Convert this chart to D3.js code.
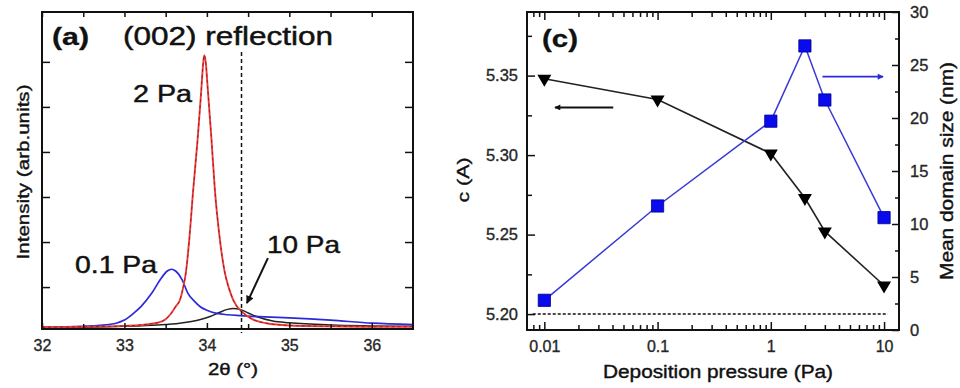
<!DOCTYPE html>
<html><head><meta charset="utf-8">
<script src="https://cdn.jsdelivr.net/npm/d3@7"></script>
<style>
body{margin:0;background:#fff}
svg{display:block}
text{font-family:"Liberation Sans",Arial,Helvetica,sans-serif}
</style>
</head><body>
<svg id="chart" width="960" height="388"></svg>
<script>
// ---------- Panel (a): (002) reflection scans ----------
const theta2Pa = [32.0,32.5,33.0,33.2,33.4,33.5,33.57,33.62,33.673,33.72,33.745,33.786,33.834,33.887,33.93,33.95,33.967,33.985,34.01,34.056,34.097,34.158,34.218,34.27,34.32,34.44,34.55,34.72,35.0,35.5,36.0,36.5];
const int2Pa   = [0.04,0.05,0.07,0.09,0.14,0.22,0.36,0.5,0.65,1.0,1.26,2.0,3.12,4.24,5.3,5.85,6.14,6.0,5.4,4.24,3.12,2.0,1.26,0.9,0.65,0.36,0.22,0.13,0.08,0.06,0.05,0.05];
const theta01Pa = [32.0,32.5,32.7,32.9,33.0,33.11,33.2,33.33,33.45,33.52,33.57,33.62,33.7,33.77,33.85,33.92,34.0,34.12,34.25,34.4,34.7,35.0,35.5,36.0,36.5];
const int01Pa   = [0.04,0.06,0.08,0.13,0.2,0.35,0.5,0.8,1.15,1.3,1.34,1.3,1.1,0.8,0.62,0.5,0.42,0.35,0.32,0.3,0.27,0.25,0.2,0.13,0.1];
const theta10Pa = [32.0,32.5,33.0,33.4,33.67,33.9,34.04,34.15,34.25,34.32,34.4,34.5,34.6,34.8,35.0,35.5,36.0,36.5];
const int10Pa   = [0.03,0.04,0.06,0.09,0.13,0.2,0.28,0.37,0.44,0.46,0.44,0.36,0.28,0.18,0.14,0.09,0.07,0.06];
const thetaTicksMajor = [32,33,34,35,36];
const thetaTicksMinor = [32.5,33.5,34.5,35.5];
const intensityTicks = [0.94,1.95,2.96,3.97,4.98,5.99];
const refTheta = 34.42, refTop = 6.21, refBottom = -0.09;
const arrow10Pa = {from:[34.74,1.59], to:[34.485,0.58]};

// ---------- Panel (c): lattice parameter and domain size ----------
const pressures  = [0.01,0.1,1,2,3,10];
const cLattice   = [5.348,5.335,5.301,5.273,5.252,5.218];
const domainSize = [2.8,11.7,19.7,26.8,21.7,10.6];
const pressureTicks = [0.01,0.1,1,10];
const cTicksMajor = [5.20,5.25,5.30,5.35];
const cTicksMinor = [5.225,5.275,5.325,5.375];
const sizeTicksMajor = [0,5,10,15,20,25,30];
const sizeTicksMinor = [2.5,7.5,12.5,17.5,22.5,27.5];
const refC = {c:5.20, from:0.0079, to:10.8};
const arrowLeft  = {from:[0.0406,5.330], to:[0.0124,5.330]};
const arrowRight = {from:[2.86,23.9], to:[9.8,23.9]};

const svg = d3.select("#chart");
const defs = svg.append("defs");
function head(id, color, w, l){
  defs.append("marker").attr("id",id).attr("viewBox","0 -5 10 10")
    .attr("refX",9).attr("refY",0).attr("markerUnits","userSpaceOnUse")
    .attr("markerWidth",l).attr("markerHeight",w).attr("orient","auto")
    .append("path").attr("d","M0,-5L10,0L0,5Z").attr("fill",color);
}
head("hBlack","#111",8,12);
head("hBlue","#2a2ad8",6,10);
head("hSmall","#111",6,9);

function label(g, s, x, y, o){
  const t = g.append("text").attr("x",x).attr("y",y).text(s)
    .attr("font-size",o.size).attr("fill",o.fill||"#111")
    .attr("stroke",o.fill||"#111").attr("stroke-width",o.sw!==undefined?o.sw:0.45)
    .attr("font-weight",o.weight||"normal")
    .attr("text-anchor",o.anchor||"start");
  if(o.len) t.attr("textLength",o.len).attr("lengthAdjust","spacingAndGlyphs");
  if(o.rot) t.attr("transform",`rotate(${o.rot},${x},${y})`);
  return t;
}
function styleAxis(g, fs){
  g.select(".domain").remove();
  g.selectAll(".tick line").attr("stroke","#111").attr("stroke-width",1.5);
  g.selectAll("text").attr("font-family",'"Liberation Sans",Arial,sans-serif')
    .attr("font-size",fs).attr("fill","#222").attr("stroke","#333").attr("stroke-width",0.35);
}

// ===== Panel (a) =====
const xa = d3.scaleLinear().domain([32,36.5]).range([42,413]);
const ya = d3.scaleLinear().domain([0,7.108]).range([329,12]);
const ga = svg.append("g");
defs.append("clipPath").attr("id","clipA").append("rect")
  .attr("x",42).attr("y",12).attr("width",371).attr("height",317);

const lineA = d3.line().x(d=>xa(d[0])).y(d=>ya(d[1])).curve(d3.curveMonotoneX);
const curves = ga.append("g").attr("clip-path","url(#clipA)");
curves.append("path").datum(d3.zip(theta10Pa,int10Pa)).attr("d",lineA)
  .attr("fill","none").attr("stroke","#222").attr("stroke-width",1.5);
curves.append("path").datum(d3.zip(theta01Pa,int01Pa)).attr("d",lineA)
  .attr("fill","none").attr("stroke","#2a2ad8").attr("stroke-width",1.7);
curves.append("path").datum(d3.zip(theta2Pa,int2Pa)).attr("d",lineA)
  .attr("fill","none").attr("stroke","#f03c3c").attr("stroke-width",1.9);
curves.append("path").datum(d3.zip(theta2Pa,int2Pa)).attr("d",lineA)
  .attr("fill","none").attr("stroke","#5a1010").attr("stroke-width",0.9)
  .attr("stroke-dasharray","3,3").attr("opacity",0.7);

// reference dashed line
ga.append("line").attr("x1",xa(refTheta)).attr("x2",xa(refTheta))
  .attr("y1",ya(refTop)).attr("y2",ya(refBottom))
  .attr("stroke","#111").attr("stroke-width",1.5).attr("stroke-dasharray","4,3");

// axes (a)
const aB = ga.append("g").attr("transform","translate(0,329)")
  .call(d3.axisBottom(xa).tickValues(thetaTicksMajor).tickFormat(d3.format("d")).tickSizeInner(-6).tickSizeOuter(0).tickPadding(11));
styleAxis(aB,16);
const aBm = ga.append("g").attr("transform","translate(0,329)")
  .call(d3.axisBottom(xa).tickValues(thetaTicksMinor).tickFormat("").tickSizeInner(-5).tickSizeOuter(0));
styleAxis(aBm,16);
const aT = ga.append("g").attr("transform","translate(0,12)")
  .call(d3.axisTop(xa).tickValues(thetaTicksMajor.concat(thetaTicksMinor)).tickFormat("").tickSizeInner(-5).tickSizeOuter(0));
styleAxis(aT,16);
const aL = ga.append("g").attr("transform","translate(42,0)")
  .call(d3.axisLeft(ya).tickValues(intensityTicks).tickFormat("").tickSizeInner(-8).tickSizeOuter(0));
styleAxis(aL,16);
const aR = ga.append("g").attr("transform","translate(413,0)")
  .call(d3.axisRight(ya).tickValues(intensityTicks).tickFormat("").tickSizeInner(-8).tickSizeOuter(0));
styleAxis(aR,16);
ga.append("rect").attr("x",42).attr("y",12).attr("width",371).attr("height",317)
  .attr("fill","none").attr("stroke","#111").attr("stroke-width",2);

// annotations (a)
ga.append("line").attr("x1",xa(arrow10Pa.from[0])).attr("y1",ya(arrow10Pa.from[1]))
  .attr("x2",xa(arrow10Pa.to[0])).attr("y2",ya(arrow10Pa.to[1]))
  .attr("stroke","#111").attr("stroke-width",2).attr("marker-end","url(#hBlack)");
label(ga,"(a)",52,45,{size:24,weight:"bold",len:37,sw:0.3});
label(ga,"(002) reflection",123,45,{size:25,len:210});
label(ga,"2 Pa",133,102,{size:23,len:59});
label(ga,"0.1 Pa",75,273,{size:24,len:82});
label(ga,"10 Pa",267,253,{size:24,len:73});
label(ga,"2θ (°)",233,375,{size:17,anchor:"middle",len:50,sw:0.4});
label(ga,"Intensity (arb.units)",29,172,{size:17,anchor:"middle",len:175,rot:-90,sw:0.4});

// ===== Panel (c) =====
const xc = d3.scaleLog().domain([0.00703,13.55]).range([527,899]);
const ycL = d3.scaleLinear().domain([5.19,5.39]).range([330,12]);
const ycR = d3.scaleLinear().domain([0,30]).range([330,12]);
const gc = svg.append("g");

// reference dotted line
gc.append("line").attr("x1",xc(refC.from)).attr("x2",xc(refC.to))
  .attr("y1",ycL(refC.c)).attr("y2",ycL(refC.c))
  .attr("stroke","#111").attr("stroke-width",1.5).attr("stroke-dasharray","3,2");

// axes (c)
const minorP = xc.ticks().filter(d => pressureTicks.indexOf(d) < 0 && d > 0.0075);
const cB = gc.append("g").attr("transform","translate(0,330)")
  .call(d3.axisBottom(xc).tickValues(pressureTicks).tickFormat(d3.format("~g")).tickSizeInner(-8).tickSizeOuter(0).tickPadding(11));
styleAxis(cB,16);
const cBm = gc.append("g").attr("transform","translate(0,330)")
  .call(d3.axisBottom(xc).tickValues(minorP).tickFormat("").tickSizeInner(-5).tickSizeOuter(0));
styleAxis(cBm,16);
const cT = gc.append("g").attr("transform","translate(0,12)")
  .call(d3.axisTop(xc).tickValues(pressureTicks).tickFormat("").tickSizeInner(-8).tickSizeOuter(0));
styleAxis(cT,16);
const cTm = gc.append("g").attr("transform","translate(0,12)")
  .call(d3.axisTop(xc).tickValues(minorP).tickFormat("").tickSizeInner(-5).tickSizeOuter(0));
styleAxis(cTm,16);
const cL = gc.append("g").attr("transform","translate(527,0)")
  .call(d3.axisLeft(ycL).tickValues(cTicksMajor).tickFormat(d3.format(".2f")).tickSizeInner(-8).tickSizeOuter(0).tickPadding(9));
styleAxis(cL,16.5);
const cLm = gc.append("g").attr("transform","translate(527,0)")
  .call(d3.axisLeft(ycL).tickValues(cTicksMinor).tickFormat("").tickSizeInner(-5).tickSizeOuter(0));
styleAxis(cLm,16);
const cR = gc.append("g").attr("transform","translate(899,0)")
  .call(d3.axisRight(ycR).tickValues(sizeTicksMajor).tickFormat(d3.format("d")).tickSizeInner(-7).tickSizeOuter(0).tickPadding(11));
styleAxis(cR,16.5);
const cRm = gc.append("g").attr("transform","translate(899,0)")
  .call(d3.axisRight(ycR).tickValues(sizeTicksMinor).tickFormat("").tickSizeInner(-4).tickSizeOuter(0));
styleAxis(cRm,16);
gc.append("rect").attr("x",527).attr("y",12).attr("width",372).attr("height",318)
  .attr("fill","none").attr("stroke","#111").attr("stroke-width",2);

// series (c)
const cData = d3.zip(pressures,cLattice);
const sData = d3.zip(pressures,domainSize);
gc.append("path").datum(cData)
  .attr("d",d3.line().x(d=>xc(d[0])).y(d=>ycL(d[1])))
  .attr("fill","none").attr("stroke","#222").attr("stroke-width",1.6);
gc.append("path").datum(sData)
  .attr("d",d3.line().x(d=>xc(d[0])).y(d=>ycR(d[1])))
  .attr("fill","none").attr("stroke","#3a3ad4").attr("stroke-width",1.5);
gc.selectAll(".tri").data(cData).join("path").attr("class","tri")
  .attr("d",d3.symbol(d3.symbolTriangle,85))
  .attr("transform",d=>`translate(${xc(d[0])},${ycL(d[1])}) rotate(180)`)
  .attr("fill","#000");
gc.selectAll(".sq").data(sData).join("path").attr("class","sq")
  .attr("d",d3.symbol(d3.symbolSquare,150))
  .attr("transform",d=>`translate(${xc(d[0])},${ycR(d[1])})`)
  .attr("fill","#0a0aee").attr("stroke","#00008a").attr("stroke-width",0.8);

// arrows (c)
gc.append("line").attr("x1",xc(arrowLeft.from[0])).attr("y1",ycL(arrowLeft.from[1]))
  .attr("x2",xc(arrowLeft.to[0])).attr("y2",ycL(arrowLeft.to[1]))
  .attr("stroke","#111").attr("stroke-width",2).attr("marker-end","url(#hSmall)");
gc.append("line").attr("x1",xc(arrowRight.from[0])).attr("y1",ycR(arrowRight.from[1]))
  .attr("x2",xc(arrowRight.to[0])).attr("y2",ycR(arrowRight.to[1]))
  .attr("stroke","#2a2ad8").attr("stroke-width",1.6).attr("marker-end","url(#hBlue)");

label(gc,"(c)",542,47,{size:24,weight:"bold",len:36,sw:0.3});
label(gc,"Deposition pressure (Pa)",718,378,{size:18,anchor:"middle",len:230,sw:0.4});
label(gc,"c (A)",469,180,{size:17,anchor:"middle",len:45,rot:-90,sw:0.4});
label(gc,"Mean domain size (nm)",953,171,{size:18,anchor:"middle",len:218,rot:-90,sw:0.4});
</script>
</body></html>
